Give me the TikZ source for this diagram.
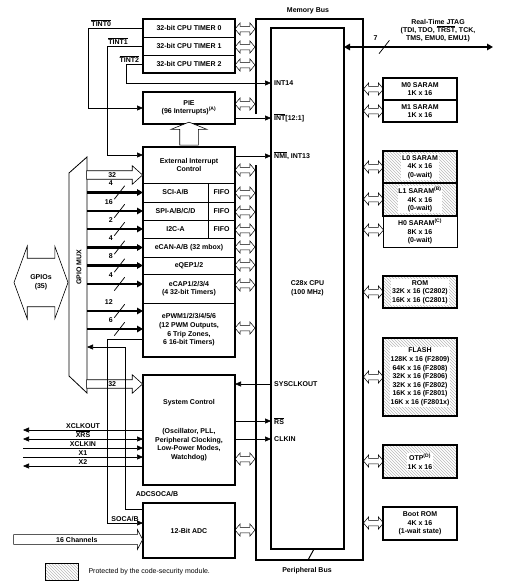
\documentclass[tikz,border=0pt]{standalone}
\usepackage{fontspec}
\setmainfont{Liberation Sans}
\usetikzlibrary{positioning, arrows.meta, shapes.arrows, patterns, calc}
\newcommand{\ovl}[1]{$\overline{\mbox{#1}}$}

\begin{document}
\begin{tikzpicture}[x=1pt, y=-1pt,
    every node/.style={font=\fontsize{7}{8.6}\selectfont\bfseries},
    box/.style={draw, line width=0.6pt, outer sep=0pt, inner sep=1pt, minimum width=92pt, align=center},
    mem/.style={draw, line width=1.1pt, outer sep=0pt, inner sep=1pt, minimum width=74pt, align=center},
    secure/.style={mem, line width=1.8pt, pattern=north west lines, pattern color=gray!55},
    memtxt/.style={fill=white, inner sep=0.8pt, align=center},
    busarrow/.style={double arrow, draw, fill=white, line width=0.5pt, inner sep=0pt, inner ysep=2.5pt,
      minimum height=20pt, double arrow head extend=3.5pt, double arrow tip angle=100},
    hollow/.style={single arrow, draw, fill=white, line width=0.6pt, inner sep=1pt},
    cpupin/.style={anchor=west, inner sep=3pt},
    arr/.style={-{Triangle[length=6pt, width=5pt]}, line width=0.6pt},
    arrs/.style={{Triangle[length=6pt, width=5pt]}-{Triangle[length=6pt, width=5pt]}, line width=0.6pt},
    wide/.style={-{Triangle[length=6pt, width=6.5pt]}, line width=2.4pt},
    widetwo/.style={{Triangle[length=6pt, width=6.5pt]}-{Triangle[length=6pt, width=6.5pt]}, line width=2.4pt},
    cnt/.style={inner sep=0pt, minimum width=8pt, minimum height=11pt, pos=0.58,
      label={[inner sep=0.3pt]above left:#1}},
    lbl/.style={inner sep=0.8pt}
  ]
\useasboundingbox (0,0) rectangle (511,584);

% bus arrows
\foreach \y [count=\i] in {29,47,65,104,170,193,212,230,247,265,285,328,459,530}
  \node[busarrow] (pa\i) at (245,\y) {};
\foreach \y [count=\i] in {89,111,167,199,230,292,377,461,523}
  \node[busarrow] (ma\i) at (373.5,\y) {};

% memory / peripheral bus and CPU
\draw[line width=2.6pt] (256,114) |- (363,19) |- (256,560) -- (256,165);
\node[draw, line width=1.2pt, outer sep=0pt, minimum width=73pt, minimum height=521pt,
      anchor=north west, align=center] (cpu) at (271,28) {C28x CPU\\(100 MHz)};
\draw[line width=1pt] ([xshift=6.5pt]cpu.south) -- ++(-6,11);
\node (membus) at (308,11) {Memory Bus};
\node (perbus) at (307,571) {Peripheral Bus};

\node[cpupin] (int14)  at (271,83)  {INT14};
\node[cpupin] (int12)  at (271,118) {\ovl{INT}[12:1]};
\node[cpupin] (nmi)    at (271,156) {\ovl{NMI}, INT13};
\node[cpupin] (sysclk) at (271,384) {SYSCLKOUT};
\node[cpupin] (rs)     at (271,421) {\ovl{RS}};
\node[cpupin] (clkin)  at (271,439) {CLKIN};

% timers and PIE
\node[box, minimum height=18pt, anchor=north west] (t0) at (143,19) {32-bit CPU TIMER 0};
\node[box, minimum height=18pt, below=0pt of t0] (t1) {32-bit CPU TIMER 1};
\node[box, minimum height=18pt, below=0pt of t1] (t2) {32-bit CPU TIMER 2};
\draw[line width=1.4pt] (t0.north west) rectangle (t2.south east);

\node[box, line width=1.4pt, minimum height=32pt, anchor=north west] (pie) at (143,92)
     {PIE\\(96 Interrupts)\textsuperscript{(A)}};

% peripherals
\node[box, minimum height=36pt, anchor=north west] (ext) at (143,147) {External Interrupt\\Control};
\node[box, minimum width=65pt, minimum height=19pt, anchor=north west] (sci) at (ext.south west) {SCI-A/B};
\node[box, minimum width=27pt, minimum height=19pt, right=0pt of sci] (scif) {FIFO};
\node[box, minimum width=65pt, minimum height=18pt, below=0pt of sci] (spi) {SPI-A/B/C/D};
\node[box, minimum width=27pt, minimum height=18pt, right=0pt of spi] (spif) {FIFO};
\node[box, minimum width=65pt, minimum height=18pt, below=0pt of spi] (i2c) {I2C-A};
\node[box, minimum width=27pt, minimum height=18pt, right=0pt of i2c] (i2cf) {FIFO};
\node[box, minimum height=19pt, anchor=north west] (ecan) at (i2c.south west) {eCAN-A/B (32 mbox)};
\node[box, minimum height=17pt, below=0pt of ecan] (eqep) {eQEP1/2};
\node[box, minimum height=29pt, below=0pt of eqep] (ecap) {eCAP1/2/3/4\\(4 32-bit Timers)};
\node[box, minimum height=54pt, below=0pt of ecap] (epwm)
     {ePWM1/2/3/4/5/6\\(12 PWM Outputs,\\6 Trip Zones,\\6 16-bit Timers)};
\draw[line width=1.4pt] (ext.north west) rectangle (epwm.south east);

\node[hollow, rotate=90, minimum height=23pt, inner ysep=9pt, single arrow head extend=8.5pt,
      single arrow tip angle=136] (pieup) at ($(ext.north)!0.5!(pie.south)$) {};

\node[box, line width=1.4pt, minimum height=110pt, anchor=north west] (sysctl) at (143,375)
     {System Control\\[21pt](Oscillator, PLL,\\Peripheral Clocking,\\Low-Power Modes,\\Watchdog)};
\node[box, line width=1.4pt, minimum height=55pt, anchor=north west] (adc) at (143,503) {12-Bit ADC};

% GPIO mux
\draw[line width=0.8pt] (69,173) -- (87,157) -- (87,393) -- (69,376) -- cycle;
\coordinate (mux) at (87,157);
\node[rotate=90] (muxtxt) at (79,267) {GPIO MUX};
\node[double arrow, draw, fill=white, line width=0.6pt, align=center, inner xsep=1pt, inner ysep=16.5pt,
      minimum height=54pt, double arrow head extend=12pt, double arrow tip angle=140] (gpio) at (41,282.5)
     {GPIOs\\(35)};

\node[hollow, anchor=tip, minimum height=56pt, inner ysep=1.5pt, single arrow head extend=5pt,
      single arrow tip angle=84] (ext32) at (ext.west |- 0,175) {32};
\node[hollow, anchor=tip, minimum height=56pt, inner ysep=1.5pt, single arrow head extend=5pt,
      single arrow tip angle=84] (sys32) at (sysctl.west |- 0,384) {32};

\coordinate (capa) at ([yshift=4.5pt]ecap.west);
\coordinate (pwma) at ([yshift=19pt]epwm.west);
\coordinate (pwmb) at ([yshift=1pt]epwm.west);
\draw[wide] (mux |- sci.west) -- node[cnt=4] (w1) {} (sci.west);
\draw[wide] (mux |- spi.west) -- node[cnt=16] (w2) {} (spi.west);
\draw[wide] (mux |- i2c.west) -- node[cnt=2] (w3) {} (i2c.west);
\draw[wide] (mux |- ecan.west) -- node[cnt=4] (w4) {} (ecan.west);
\draw[wide] (mux |- eqep.west) -- node[cnt=8] (w5) {} (eqep.west);
\draw[wide] (mux |- capa) -- node[cnt=4] (w6) {} (capa);
\draw[wide] (mux |- pwma) -- node[cnt=12] (w7) {} (pwma);
\draw[wide] (mux |- pwmb) -- node[cnt=6] (w8) {} (pwmb);

% interrupt lines
\draw[arr] (t0.west) -- node[lbl, above, pos=0.76]{\ovl{TINT0}} ++(-55,0) |- (pie.west);
\draw[arr] (t1.west) -- node[lbl, above, pos=0.69]{\ovl{TINT1}} ++(-36,0) |- ([yshift=-8pt]ext.north west);
\draw[arr] (t2.west) -- node[lbl, above, pos=0.8]{\ovl{TINT2}} ++(-17,0) |- (int14.west);
\draw[arr] (pie.east |- int12.west) -- (int12.west);
\draw[arr] (ext.east |- nmi.west) -- (nmi.west);

% clocks and reset
\draw[arr] (sysclk.west) -- (sysctl.east |- sysclk.west);
\draw[arr] (sysctl.east |- rs.west) -- (rs.west);
\draw[arr] (sysctl.east |- clkin.west) -- (clkin.west);

\coordinate (xclkout) at (23,430);
\coordinate (xrs) at (23,439);
\coordinate (xclkin) at (23,448);
\coordinate (xa) at (23,457);
\coordinate (xb) at (23,466);
\draw[arr] (sysctl.west |- xclkout) -- node[lbl, above]{XCLKOUT} (xclkout);
\draw[arrs] (sysctl.west |- xrs) -- node[lbl, above]{\ovl{XRS}} (xrs);
\draw[arr] (xclkin) -- node[lbl, above]{XCLKIN} (sysctl.west |- xclkin);
\draw[arr] (xa) -- node[lbl, above]{X1} (sysctl.west |- xa);
\draw[arr] (sysctl.west |- xb) -- node[lbl, above]{X2} (xb);

% ADC start of conversion
\coordinate (soc) at ([yshift=18pt]epwm.south west);
\coordinate (socin) at ([yshift=7.5pt]adc.west);
\coordinate (socout) at ([yshift=-6pt]adc.north west);
\coordinate (muxin) at (87,347);
\draw[arr] (soc) -- ++(-36,0) |- node[lbl, above, pos=0.75]{SOCA/B} (socin);
\draw[arr] (socout) -- ++(-18,0) |- (muxin);
\node[lbl] (adcsoc) at (157,494) {ADCSOCA/B};
\node[hollow, anchor=tip, minimum height=129pt, inner ysep=2pt, single arrow head extend=5pt,
      single arrow tip angle=124] (chan) at (adc.west |- 0,539.5) {16 Channels};

% JTAG
\coordinate (jtag) at (493,47);
\draw[widetwo] (cpu.east |- jtag) -- node[cnt=7, pos=0.27] (w9) {} (jtag);
\node[align=center, font=\fontsize{7}{8}\selectfont\bfseries] (jtaglbl) at (438,31)
     {Real-Time JTAG\\(TDI, TDO, \ovl{TRST}, TCK,\\TMS, EMU0, EMU1)};

% bus width slashes
\foreach \w in {w1,w2,w3,w4,w5,w6,w7,w8,w9}
  \draw[line width=0.75pt] (\w.south west) -- (\w.north east);

% memories
\node[mem, minimum height=22pt, anchor=north west] (m0) at (383,78) {M0 SARAM\\1K x 16};
\node[mem, minimum height=22pt, below=0pt of m0] (m1) {M1 SARAM\\1K x 16};
\node[secure, minimum height=32pt, anchor=north west] (l0) at (383,151) {};
\node[secure, minimum height=33pt, below=0pt of l0] (l1) {};
\node[mem, line width=1pt, minimum height=31pt, below=0pt of l1] (h0) {H0 SARAM\textsuperscript{(C)}\\8K x 16\\(0-wait)};
\node[secure, minimum height=32pt, anchor=north west] (rom) at (383,276) {};
\node[secure, minimum height=78pt, anchor=north west] (flash) at (383,338) {};
\node[secure, minimum height=33pt, anchor=north west] (otp) at (383,445) {};
\node[mem, line width=1.3pt, minimum height=33pt, anchor=north west] (boot) at (383,507)
     {Boot ROM\\4K x 16\\(1-wait state)};
\node[memtxt] (l0t) at (l0) {L0 SARAM\\4K x 16\\(0-wait)};
\node[memtxt] (l1t) at (l1) {L1 SARAM\textsuperscript{(B)}\\4K x 16\\(0-wait)};
\node[memtxt] (romt) at (rom) {ROM\\32K x 16 (C2802)\\16K x 16 (C2801)};
\node[memtxt] (flasht) at (flash) {FLASH\\128K x 16 (F2809)\\64K x 16 (F2808)\\32K x 16 (F2806)\\32K x 16 (F2802)\\16K x 16 (F2801)\\16K x 16 (F2801x)};
\node[memtxt] (otpt) at (otp) {OTP\textsuperscript{(D)}\\1K x 16};

% key
\node[draw, line width=1pt, pattern=north west lines, pattern color=gray!55, minimum width=33pt,
      minimum height=17pt, anchor=north west] (key) at (45,563) {};
\node[font=\fontsize{7}{8.6}\selectfont, anchor=west] (keytxt) at (85,572) {Protected by the code-security module.};
\end{tikzpicture}
\end{document}
